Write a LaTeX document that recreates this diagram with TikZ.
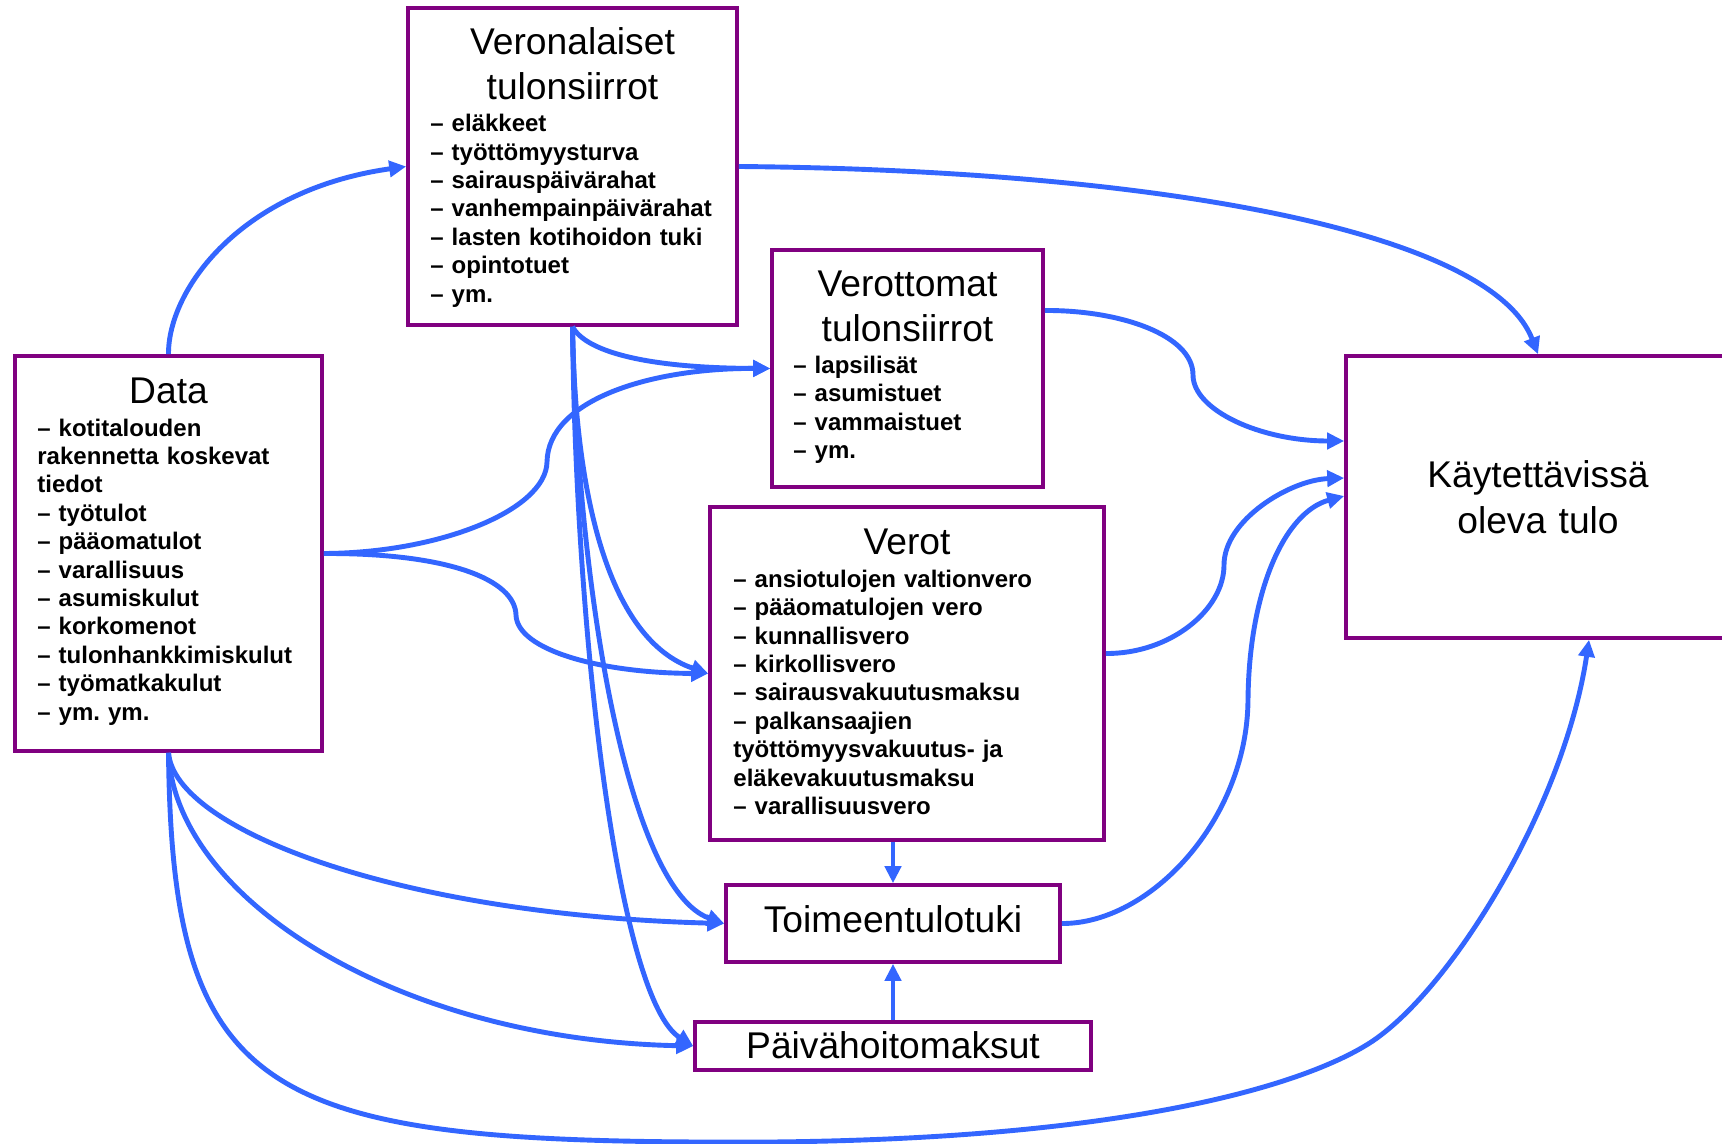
\documentclass[tikz,border=0pt]{standalone}
\usepackage{fontspec}
\setmainfont{Liberation Sans}
\usetikzlibrary{arrows.meta,calc}
\definecolor{boxpurple}{RGB}{128,0,128}
\definecolor{flowblue}{RGB}{51,102,255}
\frenchspacing
\begin{document}
\begin{tikzpicture}[x=0.5pt,y=-0.5pt,
  box/.style={draw=boxpurple,line width=1.8pt,fill=white,inner sep=0pt,rectangle},
  ttl/.style={font=\fontsize{18.6}{22.5}\selectfont,align=center,inner sep=0pt,anchor=base,text width=200pt},
  lst/.style={font=\fontsize{12}{14.2}\selectfont\bfseries,align=left,inner sep=0pt,anchor=base west,text width=200pt},
  flow/.style={draw=flowblue,line width=2.45pt,-{Triangle[length=8.5pt,width=8pt]}}
]
\fill[white] (0,0) rectangle (1722,1144);
\useasboundingbox (0,0) rectangle (1722,1144);

% boxes
\node[box,minimum width=153.5pt,minimum height=197.5pt] (dat) at (168.5,553.5) {};
\node[box,minimum width=164.5pt,minimum height=158.5pt] (ver) at (572.5,166.5) {};
\node[box,minimum width=135.5pt,minimum height=118.5pt] (vo) at (907.5,368.5) {};
\node[box,minimum width=197pt,minimum height=166.5pt] (verot) at (907,673.5) {};
\node[box,minimum width=192pt,minimum height=141pt] (kt) at (1538,497) {};
\node[box,minimum width=167pt,minimum height=38.5pt] (toim) at (893,923.5) {};
\node[box,minimum width=198pt,minimum height=24pt] (paiv) at (893,1046) {};

% texts
\node[ttl] (verT) at (572.5,55) {Veronalaiset\\tulonsiirrot};
\node[lst] (verL) at (430,131.7) {– eläkkeet\\– työttömyysturva\\– sairauspäivärahat\\– vanhempainpäivärahat\\– lasten kotihoidon tuki\\– opintotuet\\– ym.};
\node[ttl] (datT) at (168.5,403) {Data};
\node[lst] (datL) at (37,436) {– kotitalouden\\rakennetta koskevat\\tiedot\\– työtulot\\– pääomatulot\\– varallisuus\\– asumiskulut\\– korkomenot\\– tulonhankkimiskulut\\– työmatkakulut\\– ym. ym.};
\node[ttl] (voT) at (907.5,297) {Verottomat\\tulonsiirrot};
\node[lst] (voL) at (793,373.3) {– lapsilisät\\– asumistuet\\– vammaistuet\\– ym.};
\node[ttl] (verotT) at (907,554) {Verot};
\node[lst] (verotL) at (733,587.3) {– ansiotulojen valtionvero\\– pääomatulojen vero\\– kunnallisvero\\– kirkollisvero\\– sairausvakuutusmaksu\\– palkansaajien\\työttömyysvakuutus- ja\\eläkevakuutusmaksu\\– varallisuusvero};
\node[ttl,font=\fontsize{18.6}{23}\selectfont] (ktT) at (1538,487) {Käytettävissä\\oleva tulo};
\node[ttl] (toimT) at (893,932.7) {Toimeentulotuki};
\node[ttl] (paivT) at (893,1058.3) {Päivähoitomaksut};

% connectors
\draw[flow] (dat.north) .. controls (168,290) and (240,190) .. (ver.west);
\draw[flow] (ver.east) .. controls (1150,170) and (1490,230) .. (kt.north);
\draw[flow] (ver.south) .. controls (585,350) and (640,368) .. (vo.west);
\draw[flow] (dat.east) .. controls (440,553) and (546,510) .. (547,462) .. controls (548,400) and (650,368) .. (vo.west);
\draw[flow] (dat.east) .. controls (450,553) and (515,580) .. (516,615) .. controls (517,650) and (600,673) .. (verot.west);
\draw[flow] (ver.south) .. controls (575,500) and (610,640) .. (verot.west);
\draw[flow] (ver.south) .. controls (578,600) and (630,890) .. (toim.west);
\draw[flow] (ver.south) .. controls (576,650) and (620,1000) .. (paiv.west);
\draw[flow] (dat.south) .. controls (175,830) and (400,915) .. (toim.west);
\draw[flow] (dat.south) .. controls (175,900) and (400,1040) .. (paiv.west);
\draw[flow] (dat.south) .. controls (172,1090) and (260,1140) .. (700,1142)
  .. controls (1150,1146) and (1330,1075) .. (1381,1035)
  .. controls (1460,975) and (1565,800) .. ($(kt.south)+(51,0)$);
\draw[flow] ($(vo.east)+(0,-58)$) .. controls (1120,310) and (1193,335) .. (1193,375)
  .. controls (1193,410) and (1260,441) .. ($(kt.west)+(0,-56)$);
\draw[flow] ($(verot.east)+(0,-20)$) .. controls (1170,654) and (1224,610) .. (1224,565)
  .. controls (1224,520) and (1290,480) .. ($(kt.west)+(0,-19)$);
\draw[flow] (toim.east) .. controls (1150,924) and (1247,820) .. (1248,700)
  .. controls (1249,590) and (1285,512) .. ($(kt.west)+(0,-1)$);
\draw[flow] (verot.south -| toim.north) -- (toim.north);
\draw[flow] (paiv.north) -- (toim.south);
\end{tikzpicture}
\end{document}
